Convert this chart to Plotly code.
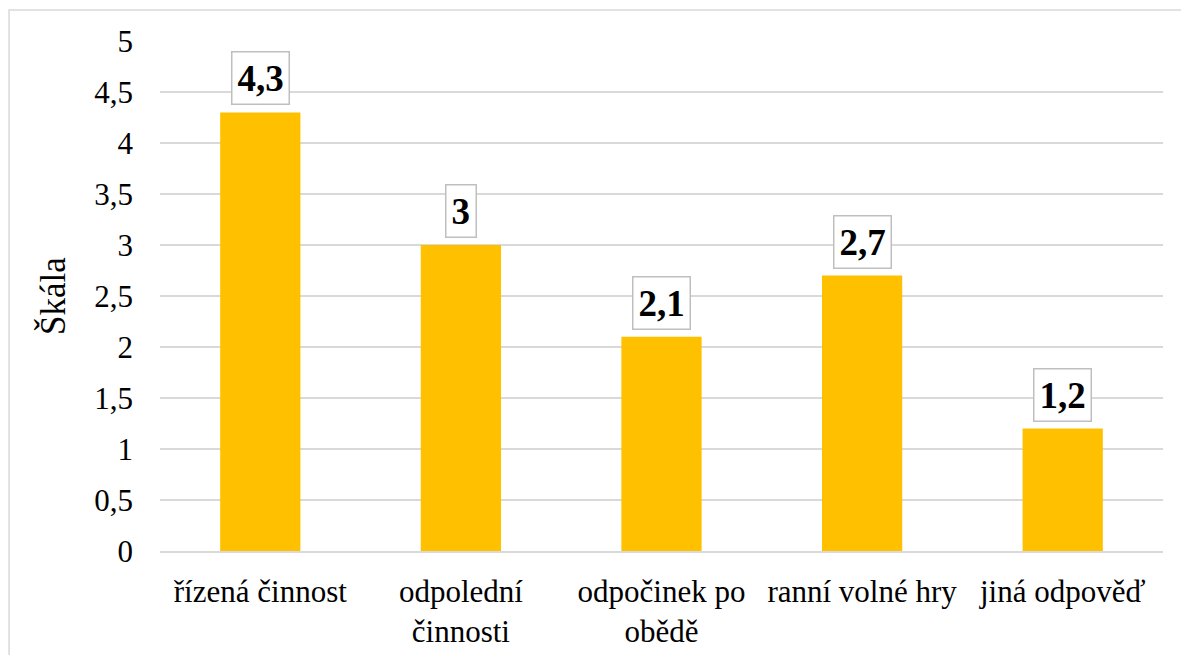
import plotly.graph_objects as go

categories = ["řízená činnost", "odpolední<br>činnosti", "odpočinek po<br>obědě", "ranní volné hry", "jiná odpověď"]
values = [4.3, 3.0, 2.1, 2.7, 1.2]
value_labels = ["4,3", "3", "2,1", "2,7", "1,2"]
tick_vals = [0, 0.5, 1, 1.5, 2, 2.5, 3, 3.5, 4, 4.5, 5]
tick_text = ["0", "0,5", "1", "1,5", "2", "2,5", "3", "3,5", "4", "4,5", "5"]
y_title = "Škála"

FONT = "Liberation Serif"

fig = go.Figure(go.Bar(x=categories, y=values, marker=dict(color="#FFC000", line=dict(width=0)), hoverinfo="skip"))

for c, v, t in zip(categories, values, value_labels):
    fig.add_annotation(x=c, y=v, text="<b>%s</b>" % t, showarrow=False, xanchor="center", yanchor="bottom",
                       yshift=7, font=dict(family=FONT, size=37, color="black"),
                       bordercolor="#bfbfbf", borderwidth=1.5, borderpad=5, bgcolor="white")

fig.add_shape(type="rect", xref="paper", yref="paper", x0=-0.1505, y0=-0.4, x1=1.2, y1=1.0608,
              line=dict(color="#d9d9d9", width=1.5), fillcolor="rgba(0,0,0,0)", layer="below")

fig.update_layout(
    width=1181, height=655,
    margin=dict(l=160, r=18, t=41, b=104),
    paper_bgcolor="white", plot_bgcolor="white",
    bargap=0.6, showlegend=False,
    font=dict(family=FONT, size=31, color="black"),
    xaxis=dict(showgrid=False, showline=True, linecolor="#d9d9d9", linewidth=1.5, ticks="", automargin=False,
               tickfont=dict(family=FONT, size=31, color="black"), ticklabelstandoff=12),
    yaxis=dict(range=[0, 5], tickvals=tick_vals, ticktext=tick_text, showgrid=True, gridcolor="#d9d9d9",
               gridwidth=1.5, zeroline=False, showline=False, ticks="", automargin=False,
               tickfont=dict(family=FONT, size=31, color="black"), ticklabelstandoff=26,
               title=dict(text=y_title, font=dict(family=FONT, size=35, color="black"), standoff=18)),
)

post = """
document.body.style.margin='0';document.documentElement.style.margin='0';
var gd=document.getElementById('{plot_id}');
function rd(){ try { Plotly.redraw(gd); } catch(e) {} }
if (document.fonts && document.fonts.load) {
  document.fonts.load('31px "Liberation Serif"').then(rd, rd);
}
setTimeout(rd, 60);
setTimeout(rd, 300);
"""

fig.write_html("out.html", config={"displayModeBar": False}, post_script=post)
